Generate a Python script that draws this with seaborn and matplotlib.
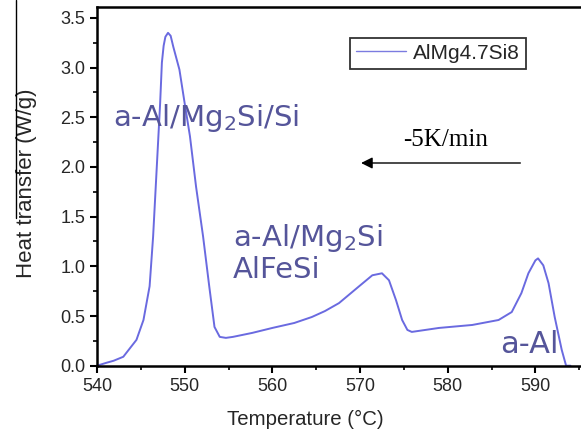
import matplotlib
matplotlib.use("Agg")
import matplotlib.pyplot as plt
import seaborn as sns
import pandas as pd
from matplotlib.ticker import MultipleLocator, FormatStrFormatter
from matplotlib.lines import Line2D

temperature = [540.0, 541.1, 541.9, 543.0, 544.5, 545.3, 546.0, 546.4, 546.8, 547.2, 547.4,
               547.6, 547.8, 548.1, 548.4, 548.7, 549.4, 550.0, 550.6, 551.3, 552.1, 552.8,
               553.4, 554.0, 554.7, 555.5, 557.7, 560.0, 562.5, 564.5, 566.0, 567.6, 569.9,
               571.4, 572.5, 573.3, 574.1, 574.8, 575.4, 575.9, 579.0, 582.8, 585.8, 587.3,
               588.4, 589.2, 590.0, 590.3, 590.9, 591.5, 592.2, 593.0, 593.5, 594.0]
heat = [0.0, 0.03, 0.05, 0.09, 0.26, 0.46, 0.80, 1.30, 1.97, 2.64, 3.05,
        3.22, 3.31, 3.35, 3.32, 3.21, 2.98, 2.64, 2.31, 1.80, 1.30, 0.80,
        0.39, 0.29, 0.28, 0.29, 0.33, 0.38, 0.43, 0.49, 0.55, 0.63, 0.80,
        0.91, 0.93, 0.86, 0.66, 0.46, 0.36, 0.34, 0.38, 0.41, 0.46, 0.54,
        0.73, 0.93, 1.06, 1.08, 1.01, 0.83, 0.49, 0.16, 0.0, 0.0]
series_name = "AlMg4.7Si8"

df = pd.DataFrame({"T": temperature, "H": heat, "s": series_name})

sns.set_theme(style="ticks")
plt.rcParams['font.family'] = ['Liberation Sans', 'DejaVu Sans']

fig = plt.figure(figsize=(5.81, 4.34), dpi=100)
ax = fig.add_axes([97/581, 1 - 365.7/434, 1 - 97/581, (365.7 - 7)/434])

line_color = '#6a6ae0'
sns.lineplot(data=df, x="T", y="H", hue="s", palette=[line_color], ax=ax, linewidth=1.4, legend=True)

ax.set_xlim(540, 595.2)
ax.set_ylim(0, 3.61)
ax.xaxis.set_major_locator(MultipleLocator(10))
ax.xaxis.set_minor_locator(MultipleLocator(5))
ax.yaxis.set_major_locator(MultipleLocator(0.5))
ax.yaxis.set_minor_locator(MultipleLocator(0.25))
ax.yaxis.set_major_formatter(FormatStrFormatter('%.1f'))
ax.tick_params(which='major', direction='out', length=5, width=1.5, labelsize=13, color='black')
ax.tick_params(which='minor', direction='out', length=3, width=1.2, color='black')
for side in ['left', 'bottom', 'top']:
    ax.spines[side].set_visible(True)
    ax.spines[side].set_linewidth(1.8)
    ax.spines[side].set_color('black')
ax.spines['right'].set_visible(False)

ax.set_xlabel("Temperature (°C)", fontsize=14.7)
ax.set_ylabel("Heat transfer (W/g)", fontsize=16)
ax.xaxis.set_label_coords(0.43, -0.122)
ax.yaxis.set_label_coords(-0.124, 0.51)

leg = ax.legend(loc='upper left', bbox_to_anchor=((350 - 97) / 484, 1 - (37.5 - 7) / 358.7),
                frameon=True, fontsize=15, handlelength=2.4, borderpad=0.3,
                handletextpad=0.3, borderaxespad=0, fancybox=False)
leg.get_frame().set_edgecolor('black')
leg.get_frame().set_linewidth(1.3)
for l in leg.get_lines():
    l.set_linewidth(1.0)
    l.set_color('#7b7be0')

ann_color = '#55559a'
ann_font = ['DejaVu Sans']
ax.text(541.8, 2.49, "a-Al/Mg$_2$Si/Si", color=ann_color, fontsize=21, family=ann_font,
        va='center', ha='left')
ax.text(555.5, 1.29, "a-Al/Mg$_2$Si", color=ann_color, fontsize=21, family=ann_font,
        va='center', ha='left')
ax.text(555.5, 0.96, "AlFeSi", color=ann_color, fontsize=21, family=ann_font,
        va='center', ha='left')
ax.text(592.6, 0.21, "a-Al", color=ann_color, fontsize=22, family=ann_font,
        va='center', ha='right')

ax.text(579.7, 2.27, "-5K/min", color='black', fontsize=18, family=['Liberation Serif'],
        va='center', ha='center')
ax.annotate("", xy=(569.8, 2.04), xytext=(588.6, 2.04),
            arrowprops=dict(arrowstyle='-|>', color='black', lw=1.0, mutation_scale=17))

fig.add_artist(Line2D([16/581, 16/581], [1 - 218/434, 1.0], color='black', lw=1.0))

fig.savefig("out.png", dpi=100)
